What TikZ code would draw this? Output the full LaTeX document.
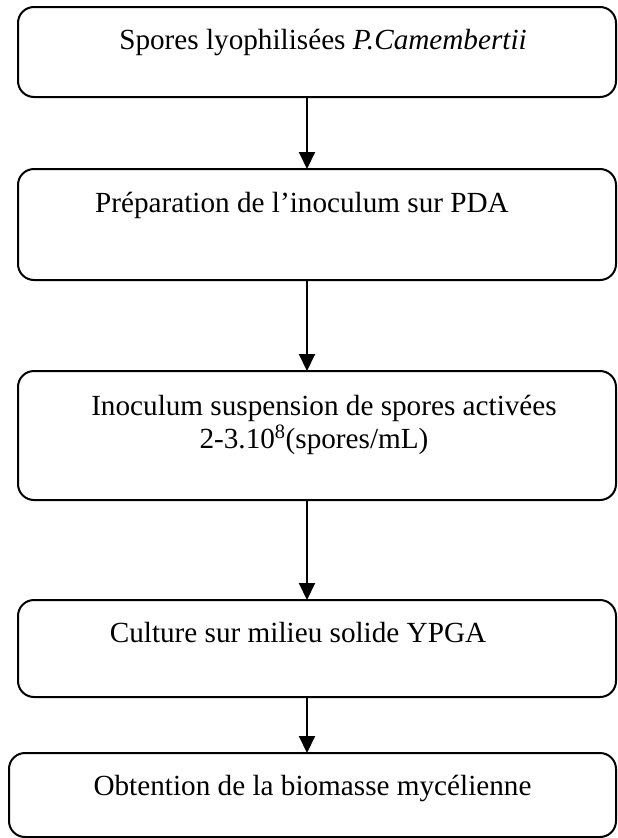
\documentclass[tikz,border=0pt]{standalone}
\usepackage{fontspec}
\setmainfont{Liberation Serif}
\usetikzlibrary{arrows.meta,positioning}

\begin{document}
\begin{tikzpicture}[x=1pt,y=-1pt,
  etape/.style={draw, line width=2pt, rounded corners=16pt, inner sep=0pt, outer sep=0pt,
    minimum width=598pt, font=\fontsize{29.2pt}{33pt}\selectfont},
  fleche/.style={-{Triangle[length=17pt,width=16pt]}, line width=2pt}]
\useasboundingbox (0,0) rectangle (618,838);

\node[etape,anchor=north,text height=42pt,text depth=48pt] (spores) at (317,7)
  {\hspace*{12pt}Spores lyophilisées \textit{P.Camembertii}};
\node[etape,text height=43pt,text depth=68pt] (prep) [below=72pt of spores]
  {Préparation de l’inoculum sur PDA\hspace*{30pt}};
\node[etape,text height=44pt,text depth=85pt] (inoc) [below=91pt of prep]
  {\hspace*{14pt}\begin{tabular}[t]{@{}c@{}}Inoculum suspension de spores activées\\
    2-3.10\textsuperscript{8}(spores/mL)\hspace*{20pt}\end{tabular}};
\node[etape,text height=42pt,text depth=55pt] (culture) [below=100pt of inoc]
  {Culture sur milieu solide YPGA\hspace*{38pt}};
\node[etape,minimum width=607pt,text height=42pt,text depth=42pt] (biomasse) [below=56pt of culture,xshift=-4.5pt]
  {Obtention de la biomasse mycélienne};

\foreach \a/\b in {spores/prep,prep/inoc,inoc/culture,culture/biomasse}
  \draw[fleche] ([xshift=-10pt]\a.south) -- ([xshift=-10pt]\a.south |- \b.north);
\end{tikzpicture}
\end{document}
